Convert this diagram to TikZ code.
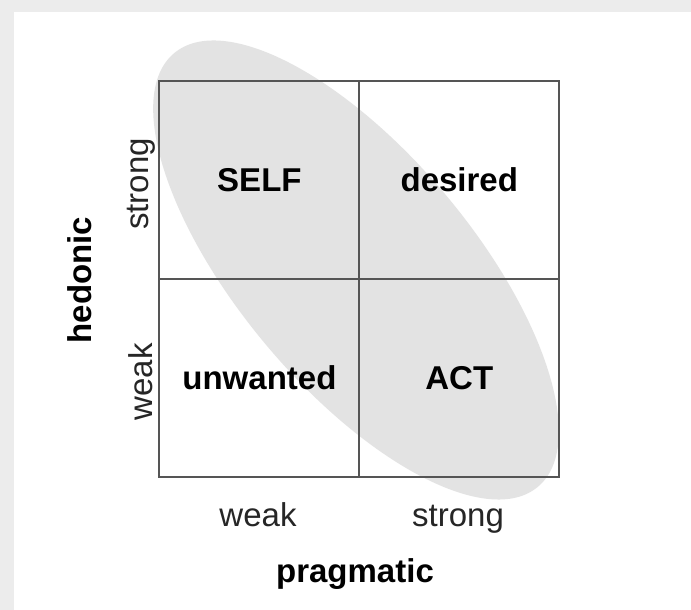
\documentclass[tikz,border=0pt]{standalone}
\usepackage{fontspec}
\setmainfont{Liberation Sans}
\definecolor{framegray}{HTML}{ECECEC}
\definecolor{blobgray}{HTML}{E3E3E3}
\definecolor{gridgray}{HTML}{555555}

\begin{document}
\begin{tikzpicture}[x=1pt,y=1pt,
    cell/.style={draw=gridgray,line width=2pt,minimum width=199.9pt,minimum height=198pt,
                 inner sep=0pt,font=\fontsize{33}{39}\selectfont\bfseries},
    tick/.style={font=\fontsize{33}{39}\selectfont,text=black!85},
    axis/.style={font=\fontsize{33}{39}\selectfont\bfseries}]
                  \useasboundingbox (0,0) rectangle (691,610);
                  \fill[framegray] (0,0) rectangle (691,610);
                  \fill[white] (14,0) rectangle (691,598);
                  % shaded band
                  \fill[blobgray] (356,340) ellipse [x radius=283, y radius=117, rotate=-50];
                  \node[cell] (self)     at (259.4,430.2) {SELF};
                  \node[cell] (desired)  at (459.3,430.2) {desired};
                  \node[cell] (unwanted) at (259.4,232.2) {unwanted};
                  \node[cell] (act)      at (459.3,232.2) {ACT};
                  \node[tick,anchor=base] (pweak)   at (258,83) {weak};
                  \node[tick,anchor=base] (pstrong) at (458,83) {strong};
                  \node[axis,anchor=base] (prag)    at (355,27) {pragmatic};
                  \node[tick,rotate=90] (hstrong) at (141,426) {strong};
                  \node[tick,rotate=90] (hweak)   at (141,228) {weak};
                  \node[axis,rotate=90] (hed)     at (80,330) {hedonic};
              \end{tikzpicture}
\end{document}
